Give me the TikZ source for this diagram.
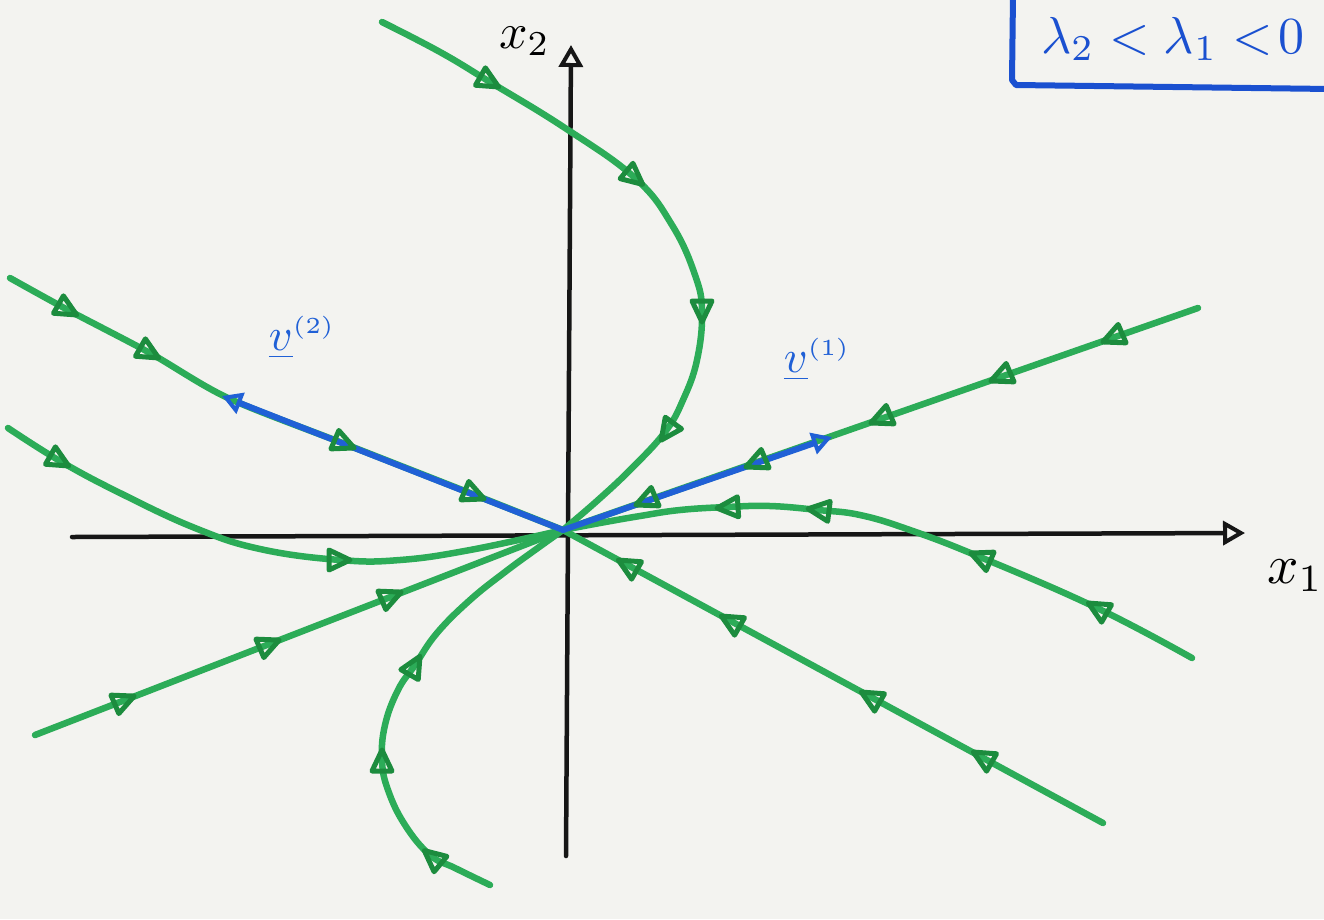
\documentclass[tikz,border=0pt]{standalone}
\usetikzlibrary{arrows.meta,decorations.markings}
\definecolor{paper}{RGB}{243,243,240}
\definecolor{traj}{RGB}{44,172,88}
\definecolor{trajdark}{RGB}{28,140,62}
\definecolor{eig}{RGB}{32,96,214}
\definecolor{boxblue}{RGB}{26,80,208}
\definecolor{ink}{RGB}{22,22,22}
\newcommand\fmark[2]{\path[flowmark] #1 -- #2;}
\begin{document}
\begin{tikzpicture}[x=1pt,y=-1pt,
  traj/.style={draw=traj, line width=6.5pt, line cap=round, line join=round},
  axisline/.style={draw=ink, line width=4.5pt, line cap=round,
    -{Triangle[open,length=22pt,width=24pt,line width=4pt]}},
  eigvec/.style={draw=eig, line width=6pt, line cap=round,
    -{Triangle[open,length=20pt,width=22pt,line width=4pt]}},
  tri/.style={draw=trajdark, line width=5pt, line join=round},
  flowmark/.style={postaction={decorate,decoration={markings,
    mark=at position 0.5 with {\draw[tri] (-11,-10) -- (10,0) -- (-11,10) -- cycle;}}}},
  lab/.style={inner sep=0pt, anchor=base west},
]
\fill[paper] (0,0) rectangle (1324,919);
\clip (0,0) rectangle (1324,919);
\coordinate (O) at (563,530);

% axes
\draw[axisline] (72,537) -- (1245,533);
\draw[axisline] (566,856) -- (571,45);
\node[lab, scale=5.5] (xone) at (1266,583) {$x_1$};
\node[lab, scale=5] (xtwo) at (498,48) {$x_2$};

% trajectories
\draw[traj] plot[smooth, tension=0.7] coordinates {(382,22) (440,52) (490,82) (565,128) (635,178) (672,225) (695,275) (702,312) (697,360) (683,400) (665,432) (632,468) (598,500) (563,530)};
\draw[traj] plot[smooth, tension=0.7] coordinates {(490,885) (455,868) (430,855) (405,825) (388,790) (382,760) (385,725) (398,690) (415,665) (437,633) (470,600) (505,572) (535,550) (563,530)};
\draw[traj] plot[smooth, tension=0.7] coordinates {(8,428) (60,461) (120,493) (195,528) (260,549) (340,560) (400,560) (470,550) (563,530)};
\draw[traj] plot[smooth, tension=0.7] coordinates {(1192,658) (1097,608) (980,557) (910,530) (860,515) (818,510) (770,506) (727,507) (680,510) (640,516) (600,523) (563,530)};
\draw[traj] plot[smooth, tension=0.5] coordinates {(10,278) (68,310) (150,353) (228,398) (345,444) (475,495) (563,530)};
\draw[traj] (O) -- (1103,823);
\draw[traj] (35,735) -- (O) -- (1198,308);

% eigenvectors
\draw[eigvec] (O) -- (222,396);
\draw[eigvec] (O) -- (832,437);

% flow arrows
\fmark{(61,306)}{(75,314)}
\fmark{(143,349)}{(157,357)}
\fmark{(338,441)}{(352,447)}
\fmark{(468,492)}{(482,498)}
\fmark{(634,569)}{(620,561)}
\fmark{(737,625)}{(723,617)}
\fmark{(877,701)}{(863,693)}
\fmark{(989,761)}{(975,753)}
\fmark{(118,703)}{(132,697)}
\fmark{(263,647)}{(277,641)}
\fmark{(385,599)}{(399,593)}
\fmark{(652,498)}{(638,504)}
\fmark{(762,460)}{(748,466)}
\fmark{(887,416)}{(873,422)}
\fmark{(1007,374)}{(993,380)}
\fmark{(1119,335)}{(1105,341)}
\fmark{(483,78)}{(497,86)}
\fmark{(629,173)}{(641,183)}
\fmark{(702,304)}{(702,320)}
\fmark{(672,425)}{(662,439)}
\fmark{(438,862)}{(426,852)}
\fmark{(382,768)}{(382,752)}
\fmark{(411,672)}{(419,658)}
\fmark{(53,457)}{(67,465)}
\fmark{(332,560)}{(348,560)}
\fmark{(1104,612)}{(1090,604)}
\fmark{(987,560)}{(973,554)}
\fmark{(826,511)}{(810,509)}
\fmark{(735,507)}{(719,508)}

% eigenvector labels
\node[lab, text=eig, scale=4.6] (vtwo) at (268,350) {$\underline{v}^{\scriptscriptstyle(2)}$};
\node[lab, text=eig, scale=4.6] (vone) at (783,372) {$\underline{v}^{\scriptscriptstyle(1)}$};

% eigenvalue box
\draw[boxblue, line width=6pt, line cap=round, line join=round] (1013,-5) -- (1012,80) -- (1016,85) -- (1330,89);
\node[lab, text=boxblue, scale=5.2] (lam) at (1040,53) {$\lambda_2<\lambda_1<\mkern-3mu 0$};
\end{tikzpicture}
\end{document}
